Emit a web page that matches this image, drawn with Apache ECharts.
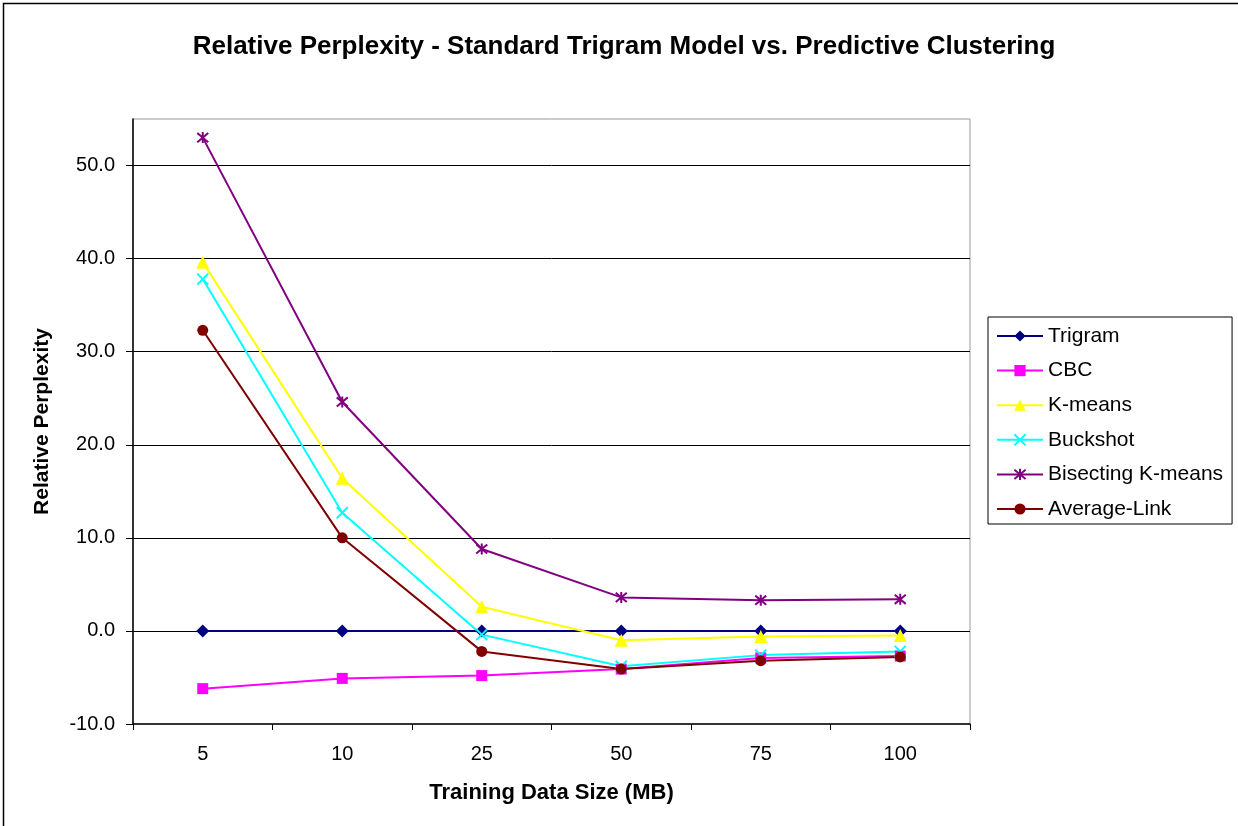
<!DOCTYPE html>
<html>
<head>
<meta charset="utf-8">
<script src="https://cdn.jsdelivr.net/npm/echarts@6/dist/echarts.min.js"></script>
<style>
html,body{margin:0;padding:0;background:#fff;}
#chart{width:1238px;height:826px;}
</style>
</head>
<body>
<div id="chart"></div>
<script>
const categories = ['5', '10', '25', '50', '75', '100'];
const trigram = [0, 0, 0, 0, 0, 0];
const cbc = [-6.2, -5.1, -4.8, -4.1, -2.9, -2.7];
const kmeans = [39.6, 16.4, 2.6, -1.0, -0.6, -0.5];
const buckshot = [37.8, 12.7, -0.4, -3.8, -2.6, -2.2];
const bisecting = [53.0, 24.6, 8.8, 3.6, 3.3, 3.4];
const averageLink = [32.3, 10.0, -2.2, -4.1, -3.2, -2.8];

const FONT = 'Liberation Sans, Arial, sans-serif';
const xPath = 'path://M0,0L10,10M10,0L0,10';
const starPath = 'path://M0,0L10,10M10,0L0,10M5,-1L5,11';

function mk(name, data, color, symbol, size, stroke) {
  const s = {
    name: name, type: 'line', data: data,
    symbol: symbol, symbolSize: size,
    lineStyle: {color: color, width: 2},
    itemStyle: {color: color},
    emphasis: {disabled: true},
    animation: false
  };
  if (stroke) {
    s.itemStyle = {color: color, borderColor: color, borderWidth: 2};
  }
  return s;
}

const chart = echarts.init(document.getElementById('chart'), null, {renderer: 'canvas'});
chart.setOption({
  backgroundColor: '#fff',
  animation: false,
  title: {
    text: 'Relative Perplexity - Standard Trigram Model vs. Predictive Clustering',
    left: 619, top: 29, textAlign: 'center',
    textStyle: {fontFamily: FONT, fontSize: 26, fontWeight: 'bold', color: '#000'}
  },
  graphic: [{
    type: 'rect', shape: {x: 3.5, y: 3.5, width: 1260, height: 850},
    style: {fill: 'none', stroke: '#000', lineWidth: 1.5}, silent: true, z: 100
  }],
  legend: {
    orient: 'vertical', left: 988, top: 317,
    padding: [8, 9, 4, 8],
    borderColor: '#000', borderWidth: 1,
    itemGap: 12.6, itemWidth: 46, itemHeight: 14,
    textStyle: {fontFamily: FONT, fontSize: 21, lineHeight: 22, color: '#000'},
    data: ['Trigram', 'CBC', 'K-means', 'Buckshot', 'Bisecting K-means', 'Average-Link']
  },
  grid: {
    left: 133, right: 268, top: 119, bottom: 102,
    show: true, borderColor: '#999', borderWidth: 1
  },
  xAxis: {
    type: 'category', data: categories, boundaryGap: true,
    name: 'Training Data Size (MB)', nameLocation: 'middle', nameGap: 58,
    nameTextStyle: {fontFamily: FONT, fontSize: 22, fontWeight: 'bold', color: '#000'},
    axisLine: {show: true, onZero: false, lineStyle: {color: '#000', width: 1.5}},
    axisTick: {show: true, alignWithLabel: false, length: 6, inside: false, lineStyle: {color: '#000'}},
    axisLabel: {fontFamily: FONT, fontSize: 20, color: '#000', margin: 20},
    splitLine: {show: false}
  },
  yAxis: {
    type: 'value', min: -10, max: 55, interval: 10,
    name: 'Relative Perplexity', nameLocation: 'middle', nameGap: 80, nameRotate: 90,
    nameTextStyle: {fontFamily: FONT, fontSize: 21, fontWeight: 'bold', color: '#000'},
    axisLine: {show: true, lineStyle: {color: '#000', width: 1.5}},
    axisTick: {show: true, length: 7, lineStyle: {color: '#000'}},
    axisLabel: {fontFamily: FONT, fontSize: 20, color: '#000', margin: 18, showMaxLabel: false,
      formatter: function (v) { return v === 55 ? '' : v.toFixed(1); }},
    splitLine: {show: true, showMaxLine: false, showMinLine: false, lineStyle: {color: '#000', width: 1}}
  },
  series: [
    mk('Trigram', trigram, '#000080', 'diamond', 13, false),
    mk('CBC', cbc, '#FF00FF', 'rect', 11, false),
    mk('K-means', kmeans, '#FFFF00', 'triangle', 13, false),
    mk('Buckshot', buckshot, '#00FFFF', xPath, 11, true),
    mk('Bisecting K-means', bisecting, '#800080', starPath, 11, true),
    mk('Average-Link', averageLink, '#800000', 'circle', 11, false)
  ]
});
</script>
</body>
</html>
